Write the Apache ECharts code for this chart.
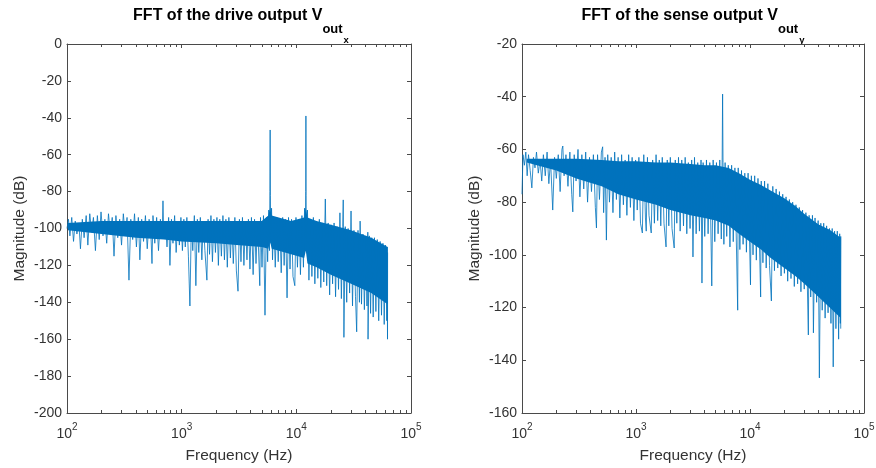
<!DOCTYPE html>
<html><head><meta charset="utf-8">
<script src="https://cdn.jsdelivr.net/npm/echarts@6/dist/echarts.min.js"></script>
<style>html,body{margin:0;padding:0;background:#fff}#c{width:876px;height:468px}</style>
</head><body><div id="c"></div>
<script>
// ---- data (frequency in Hz, magnitude in dB) ----
const driveSpectrum = [
[100,-100],[103,-95],[106,-104],[110,-94],[114,-107],[118,-96],[122,-103],[127,-97],[131,-111],[136,-95],[141,-105],[147,-93],[152,-109],[158,-92],[164,-102],[170,-94],[177,-112],[184,-93],[191,-106],[198,-91],[206,-104],[214,-95],[222,-108],[230,-92],[239,-103],[248,-94],[257,-115],[267,-93],[277,-105],[288,-95],[299,-109],[310,-92],[322,-104],[334,-94],[347,-128],[360,-95],[374,-106],[388,-92],[403,-110],[419,-94],[432,-117],[448,-95],[465,-107],[483,-93],[501,-111],[520,-95],[540,-104],[551,-119],[562,-93],[583,-108],[605,-94],[628,-112],[652,-95],[677,-103],[687,-85],[697,-103],[720,-96],[745,-110],[770,-94],[790,-120],[815,-95],[840,-108],[868,-93],[895,-113],[925,-96],[955,-109],[985,-94],
[1015,-112],[1045,-95],[1075,-110],[1110,-94],[1145,-115],[1180,-142],[1215,-96],[1250,-112],[1290,-93],[1330,-131],[1370,-95],[1410,-113],[1455,-94],[1500,-117],[1545,-96],[1595,-112],[1660,-128],[1700,-95],[1750,-114],[1800,-93],[1855,-118],[1910,-95],[1970,-113],[2030,-94],[2090,-120],[2150,-95],[2220,-115],[2290,-93],[2360,-117],[2430,-95],[2500,-121],[2580,-94],[2660,-116],[2740,-96],[2820,-119],[2910,-94],[3000,-123],[3100,-134],[3190,-95],[3290,-118],[3390,-94],[3490,-120],[3600,-96],[3710,-117],[3820,-95],[3940,-122],[4060,-94],[4200,-125],[4320,-95],[4450,-119],[4590,-96],[4800,-131],[4870,-94],[5020,-121],[5170,-93],[5330,-147],[5490,-94],[5620,-118],[5750,-90],[5830,-112],[5880,-80],[5910,-46.6],[5940,-82],[5990,-108],[6080,-89],[6200,-117],[6360,-95],[6550,-121],[6750,-94],[6950,-118],[7160,-95],[7380,-124],[7600,-94],[7830,-120],[8060,-95],[8300,-137.6],[8550,-94],[8810,-122],[9080,-95],[9350,-126],[9700,-131],[9930,-94],[10230,-121],[10540,-95],[10860,-125],[11190,-93],[11530,-121],[11800,-89],[11980,-105],[12080,-80],[12120,-39],[12160,-82],[12250,-110],[12500,-90],[12880,-128],[13270,-95],[13670,-126],[14080,-94],[14510,-130],[14950,-96],[15400,-127],[15870,-95],[16350,-132],[16840,-97],[17350,-129],[17900,-84],[18400,-131],[18950,-97],[19520,-136],[20100,-98],[20710,-130],[21340,-97],[21990,-137],[22650,-99],[23330,-133],[24000,-91.5],[24700,-138],[25400,-99],[25650,-84.5],[26000,-159],[26700,-99],[27500,-140],[28300,-100],[29150,-135],[30000,-90.5],[30900,-142],[31800,-101],[32800,-137],[33600,-156],[34500,-101],[35500,-140],[36000,-96],[37000,-141],[38100,-103],[39200,-144],[40400,-104],[41300,-142],[42000,-102],[42200,-160],[43300,-104],[44400,-146],[45500,-105],[46800,-148],[48000,-105],[49400,-145],[50800,-106],[52300,-150],[53800,-107],[55300,-147],[56900,-108],[58400,-152],[60000,-109],[61500,-150],[62000,-110],[62400,-160],[62500,-113]
];
const senseSpectrum = [
[100,-77],[102,-62],[105,-66],[108,-61],[111,-70],[114,-62],[118,-68],[122,-74.6],[126,-63],[130,-67],[134,-61],[139,-69],[144,-64],[149,-72],[154,-62],[160,-70],[166,-61],[172,-73],[178,-64],[186,-83],[193,-63],[200,-71],[208,-62],[216,-76],[224,-60],[228,-58.7],[234,-70],[243,-62],[253,-74],[263,-61],[273,-77],[279,-83.7],[287,-62],[298,-72],[310,-60],[322,-78],[335,-62],[348,-75],[362,-61],[376,-80],[391,-63],[407,-76],[423,-62],[440,-82],[450,-89.8],[460,-62],[478,-79],[497,-61],[510,-59],[520,-84],[535,-63],[550,-94.4],[565,-62],[585,-80],[606,-63],[628,-84],[650,-61],[673,-79],[697,-63],[722,-86],[748,-62],[775,-81],[803,-64],[832,-85],[862,-62],[893,-82],[925,-63],[958,-87],[992,-64],
[1025,-83],[1060,-63],[1095,-88],[1137,-91.7],[1170,-62],[1210,-86],[1230,-91],[1260,-63],[1300,-85],[1360,-91.7],[1400,-64],[1450,-88],[1500,-62],[1550,-87],[1600,-64],[1650,-89],[1700,-63],[1760,-88],[1835,-97],[1880,-64],[1940,-89],[2000,-63],[2070,-90],[2163,-97.4],[2210,-64],[2280,-88],[2360,-63],[2440,-91],[2520,-64],[2610,-89],[2700,-63],[2790,-92],[2880,-65],[2980,-90],[3080,-64],[3160,-100.8],[3260,-63],[3370,-92],[3480,-65],[3600,-91],[3720,-64],[3790,-110.7],[3880,-65],[4010,-93],[4150,-64],[4290,-92],[4440,-65],[4620,-111.8],[4750,-64],[4910,-95],[5080,-65],[5250,-92],[5430,-64],[5600,-94],[5700,-64],[5750,-39],[5800,-65],[5900,-96],[6050,-65],[6250,-93],[6450,-66],[6670,-97],[6900,-66],[7130,-95],[7370,-67],[7800,-121],[7880,-67],[8150,-98],[8420,-68],[8700,-96],[9000,-69],[9300,-99],[9620,-69],[10100,-111.4],[10280,-70],[10630,-100],[10990,-70],[11360,-102],[11750,-71],[12400,-116],[12550,-72],[12980,-103],[13420,-72],[13870,-105],[14340,-73],[14830,-104],[15400,-117.5],[15850,-74],[16390,-106],[16950,-75],[17520,-105],[18120,-76],[18730,-108],[19370,-77],[20030,-107],[20710,-78],[21410,-110],[22140,-79],[22890,-109],[23670,-80],[24470,-112],[25300,-81],[26160,-111],[27050,-82],[27970,-114],[28920,-83],[29900,-113],[30920,-84],[32500,-130.4],[33000,-85],[34100,-116],[35300,-85],[36000,-129.6],[37200,-86],[38400,-118],[39600,-87],[40600,-146.7],[41800,-88],[43000,-121],[44300,-88],[45600,-124],[47000,-89],[48400,-122],[49800,-90],[51300,-126],[52600,-90],[53700,-142.5],[55200,-91],[56700,-128],[58300,-91],[59900,-132],[61200,-92],[62000,-126],[62500,-93],[62500,-128]
];
// dense core of the noise floor (where the trace fills the band solidly)
const driveBandFreq   = [102, 200, 400, 700, 1000, 2000, 3000, 5000, 5700, 5900, 6100, 9000, 11700, 12100, 12500, 15000, 20000, 30000, 45000, 62500];
const driveBandTop    = [-97, -96, -96, -96, -96, -96, -96, -96, -93, -89, -93, -96, -94, -89, -94, -96, -98, -101, -105, -110];
const driveBandBottom = [-101, -103, -105, -106, -107, -108, -109, -110, -111, -107, -111, -114, -116, -112, -119, -121, -125, -130, -135, -141];
const senseBandFreq   = [110, 200, 300, 500, 700, 1000, 1500, 2000, 3000, 4000, 5000, 6500, 8000, 10000, 12500, 15000, 20000, 25000, 30000, 40000, 50000, 62500];
const senseBandTop    = [-63.5, -63.5, -63.5, -64, -64.5, -64.5, -65, -65, -65.5, -66, -66, -67, -69, -71.5, -73.5, -75.5, -78.5, -81.5, -84.5, -88.5, -90.5, -93.5];
const senseBandBottom = [-65, -68, -71, -74, -77, -79, -81, -83, -85, -86, -87, -89, -92, -95, -98, -101, -105, -108, -111, -116, -120, -124];

const xRange = [100, 100000];
const driveYRange = [-200, 0];
const senseYRange = [-160, -20];
const yStep = 20;
const driveTitle = ['FFT of the drive output V', 'out', 'x'];
const senseTitle = ['FFT of the sense output V', 'out', 'y'];
const xName = 'Frequency (Hz)';
const yName = 'Magnitude (dB)';

// ---- styling ----
const FONT = '"Liberation Sans", Arial, Helvetica, sans-serif';
const AX = '#4a4a4a';
const TXT = '#333333';
const BLUE = '#0072BD';
const TICK_FS = 14;
const NAME_FS = 15.5;

function xAxes(g) {
  const base = {
    type: 'log', logBase: 10, gridIndex: g, min: xRange[0], max: xRange[1],
    axisLine: { show: true, onZero: false, lineStyle: { color: AX, width: 1 } },
    axisTick: { show: true, inside: true, length: 4, lineStyle: { color: AX } },
    minorTick: { show: true, splitNumber: 9, length: 3, lineStyle: { color: AX } },
    splitLine: { show: false }, minorSplitLine: { show: false }
  };
  return [
    Object.assign({}, base, {
      position: 'bottom',
      axisLabel: {
        show: true, margin: 9,
        formatter: v => '{b|10}{s|' + Math.round(Math.log10(v)) + '}',
        rich: {
          b: { fontSize: TICK_FS, color: TXT, fontFamily: FONT, verticalAlign: 'bottom', lineHeight: 19 },
          s: { fontSize: 10, color: TXT, fontFamily: FONT, verticalAlign: 'top', lineHeight: 10 }
        }
      },
      name: xName, nameLocation: 'middle', nameGap: 35,
      nameTextStyle: { fontSize: NAME_FS, color: TXT, fontFamily: FONT }
    }),
    Object.assign({}, base, { position: 'top', axisLabel: { show: false } })
  ];
}
function yAxes(g, range) {
  const base = {
    type: 'value', gridIndex: g, min: range[0], max: range[1], interval: yStep,
    axisLine: { show: true, onZero: false, lineStyle: { color: AX, width: 1 } },
    axisTick: { show: true, inside: true, length: 4, lineStyle: { color: AX } },
    splitLine: { show: false }
  };
  return [
    Object.assign({}, base, {
      position: 'left',
      axisLabel: { show: true, margin: 5, fontSize: TICK_FS, color: TXT, fontFamily: FONT },
      name: yName, nameLocation: 'middle', nameRotate: 90, nameGap: 39,
      nameTextStyle: { fontSize: NAME_FS, color: TXT, fontFamily: FONT }
    }),
    Object.assign({}, base, { position: 'right', axisLabel: { show: false } })
  ];
}
function bandSeries(xi, yi, freq, top, bottom) {
  return {
    type: 'custom', xAxisIndex: xi, yAxisIndex: yi, silent: true,
    data: freq.map((f, i) => [f, top[i], bottom[i]]),
    encode: { x: 0, y: [1, 2] },
    renderItem: (params, api) => {
      if (params.dataIndex !== 0) return null;
      const up = freq.map((f, i) => api.coord([f, top[i]]));
      const lo = freq.map((f, i) => api.coord([f, bottom[i]])).reverse();
      return { type: 'polygon', shape: { points: up.concat(lo) }, style: { fill: BLUE } };
    }
  };
}
function lineSeries(xi, yi, data) {
  return {
    type: 'line', xAxisIndex: xi, yAxisIndex: yi, data: data,
    showSymbol: false, symbol: 'none', sampling: null, smooth: false,
    lineStyle: { color: BLUE, width: 0.8 }, itemStyle: { color: BLUE }
  };
}
function title(x, parts) {
  return {
    type: 'text', x: x, y: 8,
    style: {
      text: '{m|' + parts[0] + '}{s|' + parts[1] + '}{ss|' + parts[2] + '}',
      align: 'center', verticalAlign: 'top', textAlign: 'center', textVerticalAlign: 'top',
      fill: '#000',
      rich: {
        m: { fontSize: 16, fontWeight: 'bold', fontFamily: FONT, lineHeight: 18, verticalAlign: 'top', fill: '#000', color: '#000' },
        s: { fontSize: 13, fontWeight: 'bold', fontFamily: FONT, lineHeight: 13, verticalAlign: 'top', padding: [15, 0, 0, 0], fill: '#000', color: '#000' },
        ss: { fontSize: 9.5, fontWeight: 'bold', fontFamily: FONT, lineHeight: 10, verticalAlign: 'top', padding: [27, 0, 0, 1], fill: '#000', color: '#000' }
      }
    }
  };
}

const chart = echarts.init(document.getElementById('c'), null, { renderer: 'canvas' });
chart.setOption({
  animation: false,
  backgroundColor: '#ffffff',
  grid: [
    { left: 67, right: 465, top: 44, bottom: 55, containLabel: false, outerBoundsMode: 'none' },
    { left: 522, right: 12, top: 44, bottom: 55, containLabel: false, outerBoundsMode: 'none' }
  ],
  xAxis: xAxes(0).concat(xAxes(1)),
  yAxis: yAxes(0, driveYRange).concat(yAxes(1, senseYRange)),
  series: [
    bandSeries(0, 0, driveBandFreq, driveBandTop, driveBandBottom),
    lineSeries(0, 0, driveSpectrum),
    bandSeries(2, 2, senseBandFreq, senseBandTop, senseBandBottom),
    lineSeries(2, 2, senseSpectrum)
  ],
  graphic: [title(241, driveTitle), title(693, senseTitle)]
});
</script></body></html>
